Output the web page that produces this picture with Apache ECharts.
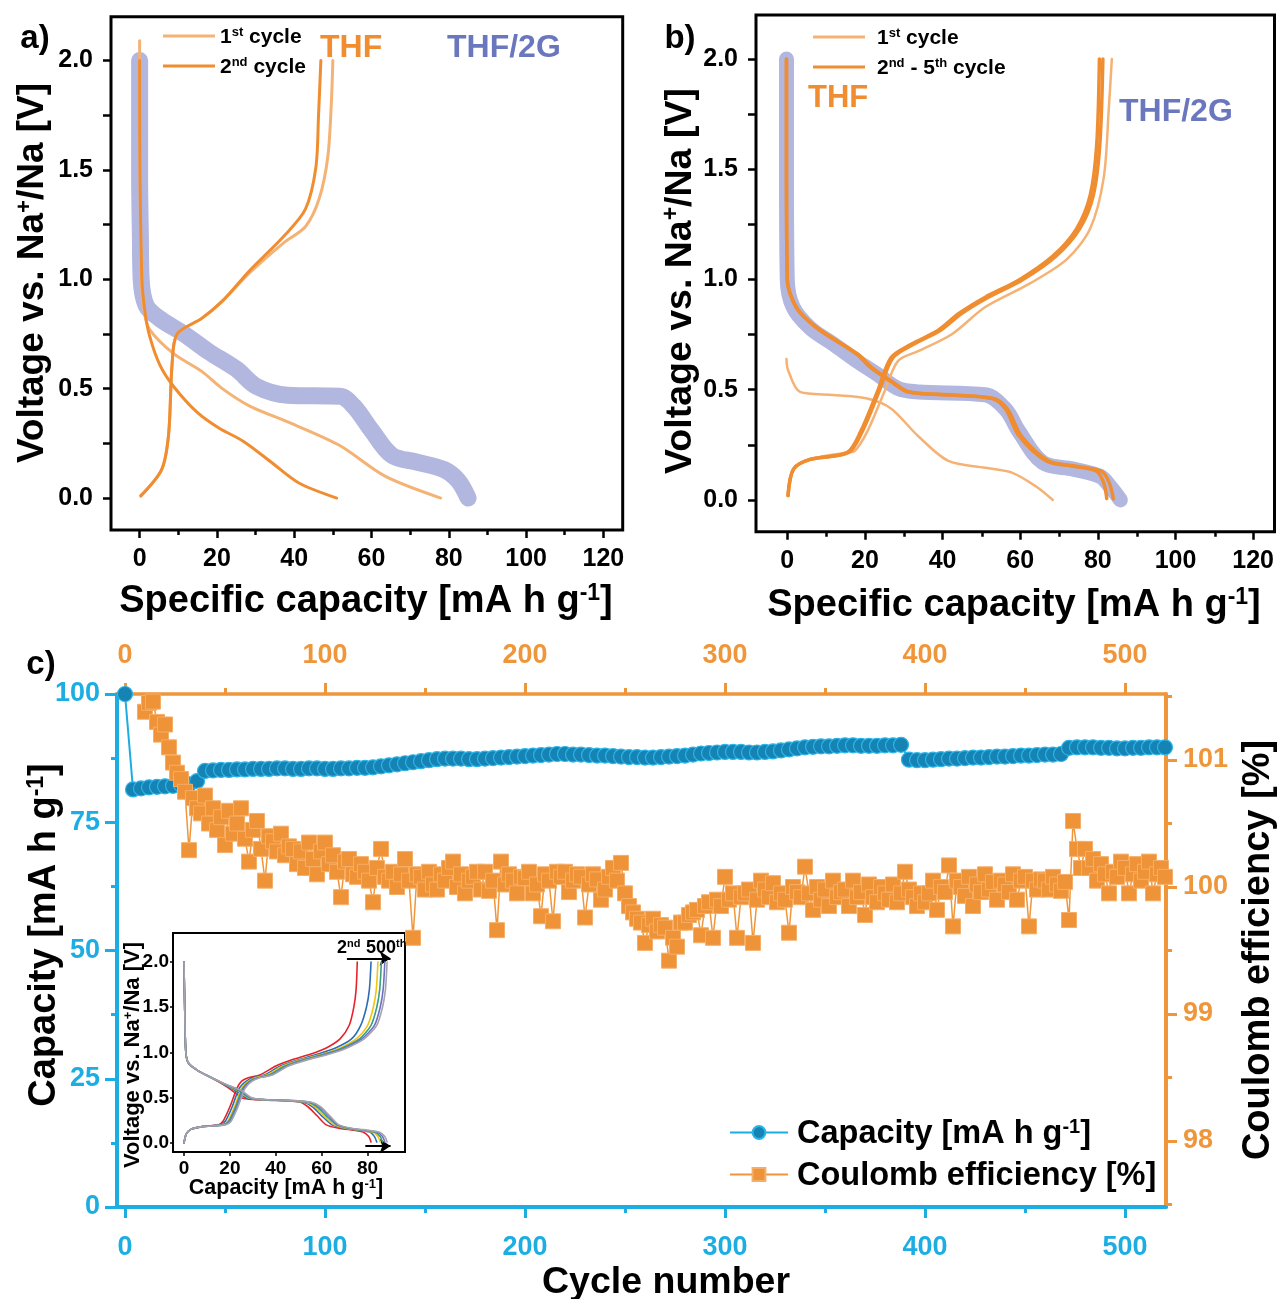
<!DOCTYPE html>
<html><head><meta charset="utf-8">
<script src="https://cdn.jsdelivr.net/npm/echarts@6/dist/echarts.min.js"></script>
<style>html,body{margin:0;padding:0;background:#fff}#main{width:1277px;height:1299px}</style>
</head><body><div id="main"></div>
<script>
const FONT = '"Liberation Sans", Arial, Helvetica, sans-serif';

// ---------- Panel a data: [capacity mA h/g, voltage V] ----------
const aG2Discharge = [[0,2.0],[0,1.48],[0.2,1.2],[0.4,1.0],[1.7,0.88],[5.2,0.82],[11.5,0.75],[17.8,0.67],[25,0.59],[30.3,0.51],[38.3,0.47],[51.8,0.465],[55.4,0.42],[60,0.31],[65.3,0.195],[71.6,0.165],[78.8,0.13],[82.4,0.08],[85,0.0]];
const aFirstDischarge = [[0,2.09],[0.1,1.6],[0.4,1.0],[1.2,0.85],[2.6,0.77],[8.8,0.66],[16,0.58],[21.4,0.5],[28.5,0.42],[39.4,0.34],[51.8,0.24],[63.5,0.1],[77.9,0.0]];
const aFirstCharge = [[0.3,0.01],[5.7,0.13],[7.5,0.29],[8.4,0.61],[9.7,0.75],[16,0.82],[21.4,0.9],[28.5,1.03],[37.5,1.17],[42.9,1.24],[46.5,1.37],[48.7,1.56],[49.6,1.8],[50,2.0]];
const aSecondDischarge = [[0,2.0],[0.1,1.5],[0.6,1.0],[1.4,0.85],[2.6,0.74],[5.2,0.61],[8.8,0.51],[15,0.39],[20.5,0.32],[26.8,0.26],[34,0.165],[41.1,0.07],[51,0.0]];
const aSecondCharge = [[0.3,0.01],[5.7,0.13],[7.5,0.29],[8.4,0.61],[9.7,0.75],[16,0.82],[21.4,0.9],[28.5,1.04],[37.5,1.2],[42.9,1.32],[45.6,1.51],[46.3,1.75],[46.9,2.0]];

// ---------- Panel b data ----------
const bG2Discharge = [[-0.2,2.0],[-0.2,1.5],[0,1.0],[1.5,0.875],[5.9,0.78],[12,0.706],[18,0.63],[23.2,0.57],[28.5,0.506],[33.7,0.49],[51,0.477],[56.3,0.41],[59.7,0.31],[65.8,0.17],[73.7,0.14],[80.6,0.107],[83.2,0.06],[85.8,0.0]];
const bFirstDischarge = [[-0.2,0.64],[0.2,0.59],[3.3,0.49],[12,0.476],[20.6,0.46],[26.7,0.415],[33.7,0.29],[41.5,0.177],[51,0.146],[58,0.123],[64.1,0.061],[68.4,0.0]];
const bFirstCharge = [[0.2,0.02],[1.6,0.14],[5.9,0.184],[15.4,0.215],[17.2,0.22],[20.6,0.31],[25,0.49],[28.5,0.63],[33.7,0.675],[42.4,0.752],[51,0.875],[62.3,0.98],[71.9,1.09],[78,1.23],[81.5,1.46],[82.8,1.77],[83.6,2.0]];
const bSecondDischarge = [[-0.2,2.0],[-0.2,1.5],[0,1.0],[2.4,0.87],[7.6,0.78],[18,0.66],[21.5,0.6],[26.7,0.537],[31.1,0.49],[42.4,0.476],[52.8,0.46],[56.3,0.41],[59.7,0.29],[66.7,0.177],[73.7,0.153],[79.7,0.13],[81.5,0.077],[82.3,0.007]];
const bFifthDischarge = [[-0.2,2.0],[-0.2,1.5],[0,1.0],[2.5,0.87],[7.8,0.78],[18.3,0.66],[21.8,0.6],[27,0.537],[31.5,0.49],[42.8,0.476],[53.2,0.46],[56.8,0.41],[60.3,0.29],[67.4,0.177],[74.5,0.153],[81,0.13],[83,0.075],[84,0.005]];
const bSecondCharge = [[0.2,0.02],[1.6,0.14],[5.9,0.184],[15.4,0.215],[18.9,0.31],[23.2,0.49],[26.7,0.645],[31.9,0.706],[38.9,0.77],[44.1,0.845],[51,0.92],[59.7,0.998],[68.4,1.106],[74.5,1.23],[78,1.38],[79.7,1.61],[80.4,2.0]];
const bFifthCharge = [[0.2,0.02],[1.6,0.14],[5.9,0.184],[15.8,0.215],[19.3,0.31],[23.6,0.49],[27.2,0.645],[32.5,0.706],[39.5,0.77],[44.8,0.845],[51.8,0.92],[60.5,0.998],[69.2,1.106],[75.3,1.23],[78.8,1.38],[80.5,1.61],[81.3,2.0]];

// ---------- Panel c data ----------
const capCycleStep = 4;   // capacity read every 4th cycle (0, 4, ... 520)
const capacityValues = [100,
81.4,81.6,81.8,81.9,82.0,82.1,82.3,82.4,83.0,
85.0,85.1,85.2,85.2,85.3,85.3,85.4,85.4,85.4,85.5,
85.5,85.4,85.4,85.5,85.5,85.4,85.4,85.5,85.5,85.6,
85.6,85.7,85.9,86.1,86.3,86.5,86.7,86.9,87.1,87.3,
87.4,87.4,87.4,87.3,87.3,87.4,87.5,87.6,87.7,87.8,
87.9,88.0,88.1,88.2,88.3,88.3,88.2,88.2,88.1,88.0,
88.0,87.9,87.8,87.7,87.7,87.6,87.6,87.7,87.8,87.9,
88.0,88.2,88.4,88.5,88.6,88.7,88.7,88.7,88.6,88.6,
88.7,88.8,89.0,89.2,89.4,89.6,89.7,89.8,89.8,89.9,
90.0,90.0,89.9,89.9,89.9,90.0,90.0,90.1,87.2,87.1,
87.1,87.2,87.3,87.4,87.4,87.5,87.6,87.6,87.7,87.8,
87.8,87.9,88.0,88.0,88.1,88.2,88.2,88.3,89.5,89.6,
89.6,89.6,89.5,89.5,89.4,89.4,89.5,89.5,89.6,89.6,
89.6];
const ceCycleStep = 2;    // coulomb efficiency read every 2nd cycle (0, 2, ... 520)
const ceValues = [
103.0,102.6,102.2,101.8,101.6,101.38,101.45,101.46,101.3,101.2,
101.28,101.1,100.98,100.9,100.85,100.75,100.29,100.7,100.62,100.58,
100.72,100.5,100.62,100.45,100.55,100.33,100.6,100.42,100.5,100.62,
100.38,100.2,100.45,100.52,100.3,100.05,100.4,100.36,100.28,100.42,
100.25,100.32,100.3,100.18,100.28,100.15,100.35,100.22,100.1,100.28,
100.35,100.18,100.25,100.12,99.92,100.2,100.22,100.1,100.08,100.18,
100.12,100.05,99.88,100.15,100.3,100.08,100.05,100.12,100.0,100.1,
100.22,100.05,99.6,100.1,100.08,99.98,100.12,100.02,99.98,100.1,
100.05,100.15,100.2,100.0,100.1,99.95,100.05,100.08,100.12,99.98,
100.12,99.97,100.05,99.66,100.2,100.02,100.1,100.05,99.95,100.08,
100.07,100.12,99.95,100.02,99.77,100.1,100.05,99.73,100.12,100.08,
100.12,99.96,100.05,100.1,100.08,99.76,100.02,100.1,100.06,99.9,
99.98,100.08,100.15,100.05,100.19,99.95,99.85,99.8,99.75,99.72,
99.56,99.7,99.75,99.65,99.7,99.68,99.42,99.6,99.53,99.72,
99.72,99.78,99.8,99.82,99.62,99.85,99.88,99.6,99.9,99.85,
100.08,99.9,99.95,99.6,99.92,99.95,99.98,99.56,99.9,100.05,
99.98,99.92,100.03,99.88,99.95,99.9,99.64,100.0,99.96,99.92,
100.16,99.95,99.82,100.0,99.9,99.98,99.85,100.05,99.92,99.96,
99.98,99.85,100.05,99.92,99.96,99.78,100.02,99.92,99.88,100.0,
99.95,99.9,100.02,99.88,99.95,100.12,99.98,99.92,99.85,99.95,
99.88,99.95,100.05,99.82,100.0,99.96,100.17,99.69,100.05,100.0,
99.93,100.08,99.85,100.02,99.96,100.1,99.98,100.04,99.9,100.05,
100.02,99.96,100.1,99.9,100.05,100.08,99.69,100.05,99.98,100.06,
100.05,99.98,100.08,100.02,99.97,100.04,99.74,100.52,100.3,100.15,
100.3,100.15,100.22,100.05,100.18,100.1,99.95,100.12,100.08,100.2,
100.15,99.95,100.1,100.18,100.05,100.12,100.2,99.95,100.1,100.15,
100.08];
const capCycles = capacityValues.map((_, i) => i * capCycleStep);
const ceCycles = ceValues.map((_, i) => i * ceCycleStep);

// ---------- Inset data ----------
const insetNames = ['2nd','100th','200th','300th','400th','500th'];
const insetColors = ['#e8222b','#2d6db4','#f2c414','#3a9e80','#6b70c4','#a4a4ae'];
const insetDischarge = [
 [[0,2.0],[0.3,1.5],[0.8,1.0],[2,0.88],[6,0.8],[12,0.72],[18,0.63],[22,0.56],[25,0.5],[30,0.48],[40,0.47],[50,0.455],[54,0.4],[58,0.3],[62,0.2],[68,0.16],[74,0.14],[78,0.12],[80.5,0.07],[81.5,0.01]],
 [[0,2.0],[0.3,1.5],[0.8,1.0],[2,0.88],[6,0.8],[12,0.72],[18,0.64],[23,0.57],[27,0.5],[32,0.48],[42,0.47],[52,0.45],[56,0.4],[60,0.3],[64.5,0.2],[70,0.16],[76,0.14],[81,0.12],[83,0.07],[84,0.01]],
 [[0,2.0],[0.3,1.5],[0.8,1.0],[2,0.88],[6,0.8],[12,0.72],[18,0.645],[24,0.57],[28,0.5],[33,0.48],[43,0.47],[53,0.45],[57,0.4],[61,0.3],[65.5,0.2],[71,0.16],[77,0.14],[82,0.12],[84.5,0.07],[85.5,0.01]],
 [[0,2.0],[0.3,1.5],[0.8,1.0],[2,0.88],[6,0.8],[12,0.72],[18,0.645],[24,0.575],[28.5,0.5],[34,0.48],[44,0.47],[54,0.45],[58,0.4],[62,0.3],[66.5,0.2],[72,0.16],[78,0.14],[83,0.12],[85.5,0.07],[86.5,0.01]],
 [[0,2.0],[0.3,1.5],[0.8,1.0],[2,0.88],[6,0.8],[12,0.72],[18,0.65],[24.5,0.58],[29,0.5],[35,0.48],[45,0.47],[55,0.45],[59,0.4],[63,0.3],[67,0.2],[73,0.16],[79,0.14],[84,0.12],[86.5,0.07],[87.5,0.01]],
 [[0,2.0],[0.3,1.5],[0.8,1.0],[2,0.88],[6,0.8],[12,0.72],[18,0.65],[25,0.58],[29.5,0.5],[35,0.48],[45,0.47],[55.5,0.45],[59.5,0.4],[63.5,0.3],[67.5,0.2],[73.5,0.16],[80,0.14],[85,0.12],[87.5,0.07],[88.5,0.01]]
];
const insetCharge = [
 [[0,0],[1,0.1],[3,0.15],[8,0.18],[15,0.2],[17,0.24],[20,0.4],[23,0.6],[25,0.68],[28,0.72],[33,0.75],[40,0.85],[47,0.92],[55,0.98],[62,1.05],[68,1.15],[72,1.3],[74,1.5],[75,1.7],[75.5,2.0]],
 [[0,0],[1,0.1],[3,0.15],[8,0.18],[16,0.2],[18,0.24],[21,0.4],[24,0.6],[27,0.68],[30,0.72],[35,0.75],[42,0.85],[50,0.92],[58,0.98],[66,1.05],[73,1.15],[77,1.3],[79.5,1.5],[80.8,1.7],[81.5,2.0]],
 [[0,0],[1,0.1],[3,0.15],[8,0.18],[16.5,0.2],[19,0.24],[22,0.4],[25,0.6],[28,0.68],[31,0.72],[36,0.75],[43,0.85],[51,0.92],[60,0.98],[68,1.05],[75,1.15],[80,1.3],[82.5,1.5],[83.8,1.7],[84.5,2.0]],
 [[0,0],[1,0.1],[3,0.15],[8,0.18],[17,0.2],[19.5,0.24],[22.5,0.4],[25.5,0.6],[28.5,0.68],[32,0.72],[37,0.75],[44,0.85],[52,0.92],[61,0.98],[69,1.05],[76.5,1.15],[81.5,1.3],[84,1.5],[85.3,1.7],[86,2.0]],
 [[0,0],[1,0.1],[3,0.15],[8,0.18],[17.5,0.2],[20,0.24],[23,0.4],[26,0.6],[29,0.68],[32.5,0.72],[38,0.75],[45,0.85],[53,0.92],[62,0.98],[70,1.05],[77.5,1.15],[83,1.3],[85.5,1.5],[86.8,1.7],[87.5,2.0]],
 [[0,0],[1,0.1],[3,0.15],[8,0.18],[18,0.2],[20.5,0.24],[23.5,0.4],[26.5,0.6],[29.5,0.68],[33,0.72],[38.5,0.75],[45.5,0.85],[54,0.92],[63,0.98],[71,1.05],[78.5,1.15],[84,1.3],[86.5,1.5],[87.8,1.7],[88.5,2.0]]
];

// ---------- Tick labels ----------
const voltTicks = [0, 0.5, 1.0, 1.5, 2.0];
const voltMinorTicks = [0, 0.25, 0.5, 0.75, 1.0, 1.25, 1.5, 1.75, 2.0];
const capTicks = [0, 20, 40, 60, 80, 100, 120];
const capMinorTicks = [10, 30, 50, 70, 90, 110];
const cycleTicks = [0, 100, 200, 300, 400, 500];
const cycleMinorTicks = [50, 150, 250, 350, 450];
const ceTicks = [98, 99, 100, 101];
const ceMinorTicks = [97.5, 98.5, 99.5, 100.5, 101.5];
const insetCapTicks = [0, 20, 40, 60, 80];
const insetVoltTicks = [0, 0.5, 1.0, 1.5, 2.0];

// ---------- Styles ----------
const C_LIGHT = '#f5b275', C_DARK = '#ef8d30', C_G2 = '#b2b7e0', C_G2TXT = '#6a77bf';
const C_CYAN = '#1cade3', C_ORANGE = '#f0963a';

function rich(fs, color) {
  const base = {fontWeight: 'bold', fontFamily: FONT, color: color, fill: color, verticalAlign: 'bottom', lineHeight: Math.round(fs * 1.15)};
  return {
    n: Object.assign({fontSize: fs}, base),
    s: Object.assign({fontSize: Math.round(fs * 0.6), padding: [0, 0, Math.round(fs * 0.42), 0]}, base)
  };
}
function txt(x, y, text, fs, color, rot, align) {
  return {type: 'text', x: x, y: y, rotation: rot || 0, z: 100,
    style: {text: text, rich: rich(fs, color || '#000'), fill: color || '#000', align: align || 'center', verticalAlign: 'middle'}};
}
const lbl = (fs, color, margin, extra) => Object.assign({fontSize: fs, fontWeight: 'bold', fontFamily: FONT, color: color, margin: margin}, extra || {});
function axis(o) {
  const a = Object.assign({type: 'value', splitLine: {show: false}, minorSplitLine: {show: false}}, o);
  a.axisLine = Object.assign({onZero: false}, a.axisLine || {show: false});
  return a;
}
const tk = (vals, len, color, w) => ({show: true, customValues: vals, length: len, lineStyle: {color: color, width: w}});

const xAxes = [
  // 0: panel a
  axis({gridIndex: 0, min: -7.4, max: 125, position: 'bottom', axisLine: {show: false},
    axisTick: tk(capTicks, 8, '#000', 2.5), axisLabel: lbl(25, '#000', 17, {customValues: capTicks})}),
  // 1: panel b
  axis({gridIndex: 1, min: -8.05, max: 125.5, position: 'bottom', axisLine: {show: false},
    axisTick: tk(capTicks, 8, '#000', 2.5), axisLabel: lbl(25, '#000', 17, {customValues: capTicks})}),
  // 2: panel c bottom
  axis({gridIndex: 2, min: -4, max: 520.5, position: 'bottom', axisLine: {show: true, lineStyle: {color: C_CYAN, width: 4}},
    axisTick: tk(cycleTicks, 11, C_CYAN, 3), axisLabel: lbl(27, C_CYAN, 27, {customValues: cycleTicks})}),
  // 3: panel c top
  axis({gridIndex: 2, min: -4, max: 520.5, position: 'top', axisLine: {show: true, lineStyle: {color: C_ORANGE, width: 3.5}},
    axisTick: tk(cycleTicks, 11, C_ORANGE, 3), axisLabel: lbl(27, C_ORANGE, 25, {customValues: cycleTicks})}),
  // 4: inset
  axis({gridIndex: 3, min: -4.8, max: 96.3, position: 'bottom', axisLine: {show: false},
    axisTick: tk(insetCapTicks, 4, '#000', 1.5), axisLabel: lbl(19, '#000', 7, {customValues: insetCapTicks})}),
  // 5: a minor
  axis({gridIndex: 4, min: -7.4, max: 125, position: 'bottom', axisLine: {show: false},
    axisTick: tk(capMinorTicks, 5, '#000', 2.5), axisLabel: {show: false}}),
  // 6: b minor
  axis({gridIndex: 5, min: -8.05, max: 125.5, position: 'bottom', axisLine: {show: false},
    axisTick: tk(capMinorTicks, 5, '#000', 2.5), axisLabel: {show: false}}),
  // 7: c minor bottom
  axis({gridIndex: 6, min: -4, max: 520.5, position: 'bottom', axisLine: {show: false},
    axisTick: tk(cycleMinorTicks, 6, C_CYAN, 3), axisLabel: {show: false}}),
  // 8: c minor top
  axis({gridIndex: 6, min: -4, max: 520.5, position: 'top', axisLine: {show: false},
    axisTick: tk(cycleMinorTicks, 6, C_ORANGE, 3), axisLabel: {show: false}})
];
const yAxes = [
  // 0: a
  axis({gridIndex: 0, min: -0.146, max: 2.2, position: 'left', axisLine: {show: false},
    axisTick: tk(voltMinorTicks, 8, '#000', 2.5),
    axisLabel: lbl(25, '#000', 18, {customValues: voltTicks, formatter: v => Number(v).toFixed(1)})}),
  // 1: b
  axis({gridIndex: 1, min: -0.144, max: 2.2, position: 'left', axisLine: {show: false},
    axisTick: tk(voltMinorTicks, 8, '#000', 2.5),
    axisLabel: lbl(25, '#000', 18, {customValues: voltTicks, formatter: v => Number(v).toFixed(1)})}),
  // 2: c capacity
  axis({gridIndex: 2, min: 0, max: 100, interval: 25, position: 'left',
    axisLine: {show: true, lineStyle: {color: C_CYAN, width: 4}},
    axisTick: {show: true, length: 12, lineStyle: {color: C_CYAN, width: 3}},
    minorTick: {show: true, splitNumber: 2, length: 6, lineStyle: {color: C_CYAN, width: 3}},
    axisLabel: lbl(27, C_CYAN, 17)}),
  // 3: c coulomb efficiency
  axis({gridIndex: 2, min: 97.48, max: 101.52, position: 'right',
    axisLine: {show: true, lineStyle: {color: C_ORANGE, width: 4}},
    axisTick: tk(ceTicks, 11, C_ORANGE, 3), axisLabel: lbl(27, C_ORANGE, 17, {customValues: ceTicks})}),
  // 4: inset
  axis({gridIndex: 3, min: -0.1, max: 2.32, position: 'left', axisLine: {show: false},
    axisTick: tk(insetVoltTicks, 3, '#000', 1.5),
    axisLabel: lbl(19, '#000', 4, {customValues: insetVoltTicks, formatter: v => Number(v).toFixed(1)})}),
  // 5: a minor (hidden)
  axis({gridIndex: 4, min: 0, max: 1, show: false}),
  // 6: b minor (hidden)
  axis({gridIndex: 5, min: 0, max: 1, show: false}),
  // 7: c minor right
  axis({gridIndex: 6, min: 97.48, max: 101.52, position: 'right', axisLine: {show: false},
    axisTick: tk(ceMinorTicks, 6, C_ORANGE, 3), axisLabel: {show: false}})
];

function curve(name, data, xi, yi, color, width, extra) {
  return Object.assign({type: 'line', name: name, xAxisIndex: xi, yAxisIndex: yi, data: data,
    symbol: 'none', smooth: 0.3, silent: true,
    lineStyle: {color: color, width: width, cap: 'round', join: 'round'}, itemStyle: {color: color}}, extra || {});
}

const series = [
  curve('aG2', aG2Discharge, 0, 0, C_G2, 17, {smooth: 0.35}),
  curve('a1', aFirstDischarge, 0, 0, C_LIGHT, 3),
  curve('a1', aFirstCharge, 0, 0, C_LIGHT, 3),
  curve('a2', aSecondDischarge, 0, 0, C_DARK, 3),
  curve('a2', aSecondCharge, 0, 0, C_DARK, 3),
  curve('bG2', bG2Discharge, 1, 1, C_G2, 15, {smooth: 0.35}),
  curve('b1', bFirstDischarge, 1, 1, C_LIGHT, 2.5),
  curve('b1', bFirstCharge, 1, 1, C_LIGHT, 2.5),
  curve('b2', bSecondDischarge, 1, 1, C_DARK, 3.5),
  curve('b2', bFifthDischarge, 1, 1, C_DARK, 3.5),
  curve('b2', bSecondCharge, 1, 1, C_DARK, 3.5),
  curve('b2', bFifthCharge, 1, 1, C_DARK, 3.5),
  {type: 'line', name: 'cap', xAxisIndex: 2, yAxisIndex: 2, silent: true,
    data: capCycles.map((c, i) => [c, capacityValues[i]]),
    symbol: 'circle', symbolSize: 15, showSymbol: true, showAllSymbol: true,
    lineStyle: {color: C_CYAN, width: 2}, itemStyle: {color: '#1584b4', borderColor: '#2ab4e8', borderWidth: 1.2}},
  {type: 'line', name: 'ce', xAxisIndex: 2, yAxisIndex: 3, silent: true,
    data: ceCycles.map((c, i) => [c, ceValues[i]]),
    symbol: 'rect', symbolSize: 15, showSymbol: true, showAllSymbol: true,
    lineStyle: {color: C_ORANGE, width: 1.5}, itemStyle: {color: '#ef9338', borderColor: '#f5ae68', borderWidth: 1}}
];
insetNames.forEach((nm, k) => {
  series.push(curve('in' + nm, insetDischarge[k], 4, 4, insetColors[k], 1.6, {smooth: 0.25, z: 10}));
  series.push(curve('in' + nm, insetCharge[k], 4, 4, insetColors[k], 1.6, {smooth: 0.25, z: 10}));
});
series.push({type: 'line', name: 'arrows', xAxisIndex: 4, yAxisIndex: 4, data: [], silent: true, z: 11,
  markLine: {silent: true, symbol: ['none', 'arrow'], symbolSize: 11, label: {show: false},
    lineStyle: {color: '#000', width: 2, type: 'solid'},
    data: [[{coord: [71, 2.04]}, {coord: [90, 2.04]}], [{coord: [79, -0.035]}, {coord: [90, -0.035]}]]}});

const legendFmt = {
  a1: '{n|1}{s|st}{n| cycle}', a2: '{n|2}{s|nd}{n| cycle}',
  b1: '{n|1}{s|st}{n| cycle}', b2: '{n|2}{s|nd}{n| - 5}{s|th}{n| cycle}',
  cap: '{n|Capacity [mA h g}{s|-1}{n|]}', ce: '{n|Coulomb efficiency [%]}'
};
function legend(names, left, top, iw, ih, gap, fs, pad, icon) {
  const l = {data: names, orient: 'vertical', left: left, top: top, itemWidth: iw, itemHeight: ih, itemGap: gap,
    selectedMode: false, padding: 0, formatter: n => legendFmt[n],
    textStyle: {rich: rich(fs, '#000'), padding: [0, 0, 0, pad || 0]}};
  if (icon) l.icon = icon;
  return l;
}

const option = {
  animation: false,
  backgroundColor: '#fff',
  grid: [
    {left: 111, top: 16.7, width: 511.7, height: 513.3, show: true, borderColor: '#000', borderWidth: 3, backgroundColor: 'transparent'},
    {left: 756, top: 15, width: 519.6, height: 516.7, show: true, borderColor: '#000', borderWidth: 3, backgroundColor: 'transparent'},
    {left: 117, top: 694, width: 1049, height: 513, show: false},
    {left: 173, top: 933, width: 232, height: 219, show: true, borderColor: '#000', borderWidth: 2, backgroundColor: '#fff'},
    {left: 111, top: 16.7, width: 511.7, height: 513.3, show: false},
    {left: 756, top: 15, width: 519.6, height: 516.7, show: false},
    {left: 117, top: 694, width: 1049, height: 513, show: false}
  ],
  xAxis: xAxes,
  yAxis: yAxes,
  legend: [
    legend(['a1', 'a2'], 163, 26, 52, 3, 8, 21, 0, 'rect'),
    legend(['b1', 'b2'], 813, 27, 52, 3, 8, 21, 7, 'rect'),
    legend(['cap', 'ce'], 729, 1117, 58, 16, 9, 32.5, 4)
  ],
  series: series,
  graphic: [
    txt(35, 36, '{n|a)}', 33, '#000'),
    txt(680, 36, '{n|b)}', 33, '#000'),
    txt(41, 662, '{n|c)}', 33, '#000'),
    txt(320, 46, '{n|THF}', 32, C_DARK, 0, 'left'),
    txt(447, 46, '{n|THF/2G}', 32, C_G2TXT, 0, 'left'),
    txt(808, 96, '{n|THF}', 31, C_DARK, 0, 'left'),
    txt(1119, 110, '{n|THF/2G}', 32, C_G2TXT, 0, 'left'),
    txt(366, 599, '{n|Specific capacity [mA h g}{s|-1}{n|]}', 38, '#000'),
    txt(1014, 603, '{n|Specific capacity [mA h g}{s|-1}{n|]}', 38, '#000'),
    txt(30, 273, '{n|Voltage vs. Na}{s|+}{n|/Na [V]}', 37, '#000', Math.PI / 2),
    txt(678, 281, '{n|Voltage vs. Na}{s|+}{n|/Na [V]}', 37.5, '#000', Math.PI / 2),
    txt(666, 1280, '{n|Cycle number}', 37.5, '#000'),
    txt(42, 935, '{n|Capacity [mA h g}{s|-1}{n|]}', 38, '#000', Math.PI / 2),
    txt(1256, 950, '{n|Coulomb efficiency [%]}', 38, '#000', Math.PI / 2),
    txt(286, 1187, '{n|Capacity [mA h g}{s|-1}{n|]}', 21.5, '#000'),
    txt(131, 1055, '{n|Voltage vs. Na}{s|+}{n|/Na [V]}', 22, '#000', Math.PI / 2),
    txt(337, 947, '{n|2}{s|nd}', 18, '#000', 0, 'left'),
    txt(366, 947, '{n|500}{s|th}', 18, '#000', 0, 'left')
  ]
};
const chart = echarts.init(document.getElementById('main'), null, {renderer: 'canvas'});
chart.setOption(option);
</script></body></html>
